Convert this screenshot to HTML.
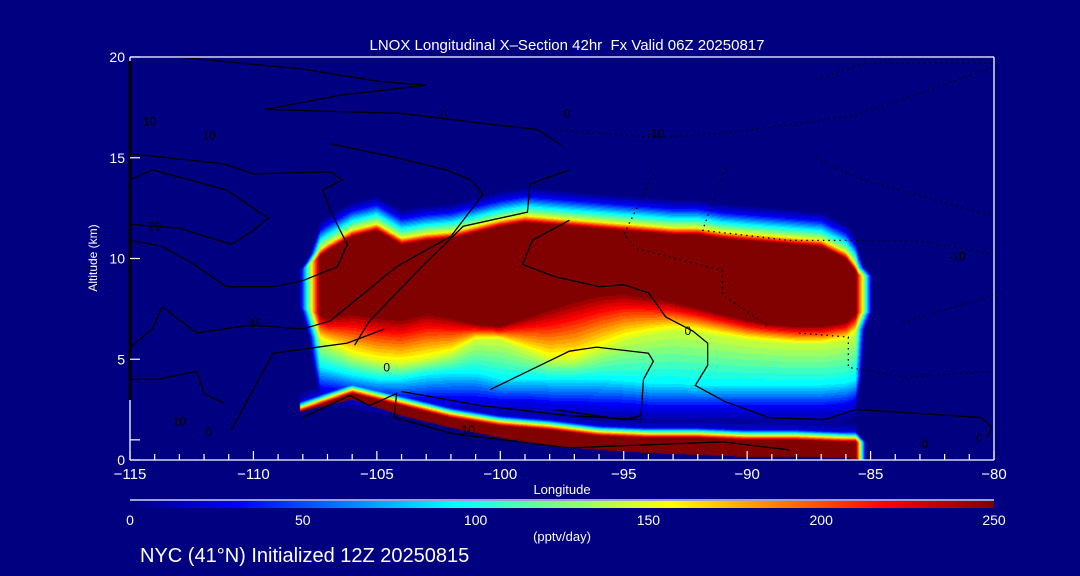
<!DOCTYPE html>
<html><head><meta charset="utf-8"><style>
html,body{margin:0;padding:0;background:#000080;width:1080px;height:576px;overflow:hidden}
#root{position:relative;width:1080px;height:576px;font-family:"Liberation Sans",sans-serif;color:#fff}
canvas{position:absolute}
svg{position:absolute;left:0;top:0}
</style></head><body>
<div id="root">
<canvas id="field" width="864" height="403" style="left:130px;top:57px"></canvas>
<canvas id="cbar" width="864" height="7" style="left:130px;top:501px"></canvas>
<svg id="ov" width="1080" height="576"></svg>
</div>
<script>
// ---- data ----
const blobLons = [-108,-107,-106,-105,-104,-103,-102,-101,-100,-99,-98,-97,-96,-95,-94,-93,-92,-91,-90,-89,-88,-87,-86,-85.5];
const coreTop  = [9.5,10.4,11.1,11.4,10.7,10.9,11.0,11.3,11.6,11.8,11.7,11.6,11.5,11.4,11.3,11.2,11.2,11.0,10.9,10.8,10.7,10.6,10.0,9.2];
const coreBot  = [7.5,7.0,7.2,7.0,6.9,7.2,7.0,6.7,6.6,7.0,7.4,7.8,8.1,8.2,8.0,7.8,7.5,7.2,6.9,6.7,6.6,6.6,6.8,7.3];
const yellowBot= [6.3,5.8,5.2,4.9,4.8,5.0,5.3,6.0,6.0,5.5,5.0,5.0,5.5,6.0,6.3,6.5,6.4,6.2,6.0,5.9,5.8,5.8,6.0,6.5];
const cyanBot  = [4.8,4.5,4.2,4.0,4.0,4.2,4.3,4.3,4.0,4.0,4.0,4.0,4.0,3.9,3.8,3.8,3.7,3.7,3.7,3.7,3.7,3.7,3.8,4.0];
const blueBot  = [3.6,3.5,3.3,3.1,3.0,3.0,3.0,3.0,2.9,2.9,2.8,2.8,2.7,2.7,2.6,2.6,2.6,2.6,2.6,2.6,2.6,2.6,2.7,3.0];
const bandLons = [-108.1,-106,-104,-102,-100,-98,-96,-94,-92,-90,-88,-86,-85.3];
const bandTop  = [2.4,3.3,2.7,2.1,1.7,1.5,1.2,1.1,1.1,1.0,1.0,0.9,0.9];
const bandBot  = [2.4,3.0,2.2,1.6,1.1,0.7,0.5,0.35,0.25,0.15,0.15,0.1,0.0];
const cbTicks = [0,50,100,150,200,250];
const xTicks = [-115,-110,-105,-100,-95,-90,-85,-80];
const yTicks = [0,5,10,15,20];
const solidLines = [
 [[-115,15.2],[-111.2,14.7],[-110,14.2],[-106.9,14.3],[-106.4,13.9],[-107.2,13.4],[-106.9,12.4],[-106.2,10.7],[-106.6,9.6],[-108,8.9],[-109.2,8.6],[-111.1,8.6],[-112.4,9.7],[-113.7,10.6],[-115,10.9]],
 [[-115,11.7],[-113,11.5],[-110.9,10.7],[-110,11.4],[-109.4,12.0],[-111.1,13.4],[-114.1,14.4],[-115,13.9]],
 [[-115,5.6],[-114.1,6.5],[-113.7,7.6],[-112.3,6.3],[-110.1,6.7],[-108,6.5],[-106.9,6.9],[-106.1,7.7],[-104.2,9.6],[-102,11.1],[-100.7,13.2],[-101.2,13.9],[-102.2,14.4],[-104.2,15.0],[-106.9,15.7]],
 [[-105.9,5.7],[-105.3,6.9],[-103.1,9.7],[-101.5,11.6],[-98.9,12.3],[-98.8,13.7],[-97.2,14.4]],
 [[-115,4.0],[-113.9,4.0],[-112.3,4.4],[-112,3.3],[-111.2,2.8]],
 [[-110.9,1.5],[-109.2,5.3],[-108,5.5],[-106.2,5.8],[-104.7,6.5]],
 [[-108,2.1],[-106.1,3.2],[-105.3,2.7],[-104.2,3.3],[-104.3,2.1],[-101.9,1.3],[-97.2,0.6],[-91,0.9],[-88.3,0.5]],
 [[-104,3.4],[-100.8,2.7],[-97.2,2.2],[-94.3,2.0]],
 [[-97.2,11.9],[-98.7,10.9],[-99.1,9.7],[-97.8,9.1],[-96,8.6],[-95,8.7],[-94,8.3],[-93.3,7.1],[-92.2,6.4],[-91.6,5.8],[-91.6,4.7],[-92.1,3.7],[-90.9,2.9],[-89.1,2.1],[-86.9,2.0],[-85.6,2.5],[-82.9,2.3],[-80.5,2.1],[-80.1,1.6],[-80.3,1.1]],
 [[-100.4,3.5],[-97.2,5.4],[-96.1,5.6],[-94,5.3],[-93.8,4.9],[-94.2,4.0],[-94.3,2.2],[-95,2.0],[-97.8,2.5]],
 [[-113.1,20],[-108,19.4],[-105,18.8],[-103,18.6],[-106.5,18.1],[-109.5,17.4],[-104,17.2],[-100,16.6],[-98.5,16.4],[-97.5,15.6]]
];
const dottedLines = [
 [[-97.8,16.4],[-93.7,16.0],[-91,16.2],[-85.6,17.1],[-80,19.5]],
 [[-93.7,14.5],[-94.1,13.4],[-95,11.2],[-94.5,10.5],[-91,9.4],[-91,8.2],[-89.1,6.6]],
 [[-90.9,14.5],[-91.8,11.4],[-88.3,10.9],[-83.2,10.9],[-80,10.2]],
 [[-87.9,6.3],[-85.9,6.1],[-85.9,4.6],[-83.6,4.1],[-80,4.4]],
 [[-87.2,15.0],[-85.6,14.0],[-80,12.1]],
 [[-87.2,18.9],[-85.2,19.7],[-80,19.7]],
 [[-83.7,6.8],[-80,8.2]]
];
const lineLabels = [["10",-114.2,16.8],["10",-111.8,16.1],["20",-114,11.6],["10",-109.9,6.8],["0",-111.8,1.4],["10",-113,1.9],["0",-102.3,17.1],["0",-97.3,17.2],["-10",-93.7,16.2],["-10",-81.5,10.1],["0",-92.4,6.4],["10",-101.3,1.5],["0",-104.6,4.6],["0",-82.8,0.8],["0",-80.6,1.1]];

// ---- axes ----
const X0=130,X1=994,Y0=460,Y1=57;
const xs = lon => X0+(lon+115)/35*(X1-X0);
const ys = alt => Y0-alt/20*(Y0-Y1);
function interp(xa,ya,x){
  if(x<=xa[0])return ya[0]; if(x>=xa[xa.length-1])return ya[ya.length-1];
  for(let i=1;i<xa.length;i++){ if(x<=xa[i]){const t=(x-xa[i-1])/(xa[i]-xa[i-1]);return ya[i-1]+t*(ya[i]-ya[i-1]);} }
}
function jet(t){
  t=Math.max(0,Math.min(1,t));
  const c=v=>Math.round(255*Math.max(0,Math.min(1,v)));
  return [c(1.5-Math.abs(4*t-3)),c(1.5-Math.abs(4*t-2)),c(1.5-Math.abs(4*t-1))];
}
function value(lon,alt){
  let v=0;
  const top=interp(blobLons,coreTop,lon),bot=interp(blobLons,coreBot,lon),
        yb=interp(blobLons,yellowBot,lon),cb=interp(blobLons,cyanBot,lon),bb=interp(blobLons,blueBot,lon);
  if(alt>=bot&&alt<=top)v=260;
  else if(alt>top)v=interp([0,0.35,0.8,1.3,1.8],[250,150,94,31,0],alt-top);
  else if(alt>=yb)v=150+(alt-yb)/(bot-yb)*100;
  else if(alt>=cb)v=94+(alt-cb)/(yb-cb)*56;
  else if(alt>=bb)v=31+(alt-bb)/(cb-bb)*63;
  else v=31-(bb-alt)*30;
  v-=Math.max(0,-107.3-lon)*300+Math.max(0,lon+85.6)*380;
  let w=0;
  if(lon>=-108.1){
    const bt=interp(bandLons,bandTop,lon),bo=interp(bandLons,bandBot,lon);
    if(alt<=bt&&alt>=bo)w=255;
    else if(alt>bt)w=Math.max(250-(alt-bt)*450, 45*(1-(alt-bt)/1.1));
    w-=Math.max(0,lon+85.6)*600;
  }
  return Math.max(v,w,0);
}
const cv=document.getElementById('field'),ctx=cv.getContext('2d');
const img=ctx.createImageData(864,403);
for(let py=0;py<403;py++){
  const alt=(Y0-(Y1+py+0.5))/(Y0-Y1)*20;
  for(let px=0;px<864;px++){
    const lon=-115+(px+0.5)/864*35;
    let v=Math.min(250,value(lon,alt));
    v=Math.floor(v/7.8)*7.8;
    const c=jet(v/250),k=(py*864+px)*4;
    img.data[k]=c[0];img.data[k+1]=c[1];img.data[k+2]=c[2];img.data[k+3]=255;
  }
}
ctx.putImageData(img,0,0);
const cb2=document.getElementById('cbar').getContext('2d');
for(let px=0;px<864;px++){const c=jet(px/863);cb2.fillStyle=`rgb(${c[0]},${c[1]},${c[2]})`;cb2.fillRect(px,0,1,7);}

// ---- overlay ----
const svg=document.getElementById('ov'),NS='http://www.w3.org/2000/svg';
function el(tag,attrs,parent){const e=document.createElementNS(NS,tag);for(const k in attrs)e.setAttribute(k,attrs[k]);(parent||svg).appendChild(e);return e;}
function txt(s,x,y,size,anchor,parent){const t=el('text',{x:x,y:y,'font-size':size,'text-anchor':anchor||'middle',fill:'#fff','font-family':'Liberation Sans, sans-serif'},parent);t.textContent=s;return t;}
const gLines=el('g',{fill:'none',stroke:'#000','stroke-width':1.3});


solidLines.forEach(l=>{const p=el('polyline',{points:l.map(q=>xs(q[0])+','+ys(q[1])).join(' ')},gLines);
 
 });
dottedLines.forEach(l=>{const p=el('polyline',{points:l.map(q=>xs(q[0])+','+ys(q[1])).join(' '),'stroke-dasharray':'1.5 4'},gLines);
 
 });
lineLabels.forEach(l=>{const t=el('text',{x:xs(l[1]),y:ys(l[2])+4,'font-size':12,'text-anchor':'middle',fill:'#000','font-family':'Liberation Sans, sans-serif'});t.textContent=l[0];
 
 });
// frame
const fr=el('g',{stroke:'#fff','stroke-width':1.3,fill:'none'});


el('line',{x1:X0,y1:Y1,x2:X1,y2:Y1},fr);el('line',{x1:X1,y1:Y1,x2:X1,y2:Y0},fr);
el('line',{x1:X0,y1:Y0,x2:X1,y2:Y0},fr);el('line',{x1:X0,y1:Y1,x2:X0,y2:Y0},fr);
el('line',{x1:X0,y1:61,x2:X0,y2:400,stroke:'#000','stroke-width':3},fr);
const xa=el('g',{});
for(let lon=-115;lon<=-80;lon++){const major=lon%5===0;el('line',{x1:xs(lon),x2:xs(lon),y1:Y0,y2:Y0-(major?9:6),stroke:'#fff','stroke-width':1.2},xa);}
xTicks.forEach(v=>{const t=txt('\u2212'+Math.abs(v),xs(v),479,15,'middle',xa);});
const xt=txt('Longitude',562,494,13);
const ya=el('g',{});
yTicks.forEach(v=>{el('line',{x1:X0,x2:X0+10,y1:ys(v),y2:ys(v),stroke:'#fff','stroke-width':1.2},ya);
 const t=txt(String(v),125,ys(v)+5,14,'end',ya);});
el('line',{x1:X0,x2:X0+10,y1:ys(1),y2:ys(1),stroke:'#fff','stroke-width':1.2},ya);
const yt=txt('Altitude (km)',0,0,12);yt.setAttribute('transform','translate(97,258) rotate(-90)');

const tt=txt('LNOX Longitudinal X\u2013Section 42hr\u00a0\u00a0Fx Valid 06Z 20250817',567,50,15);

// colorbar
el('line',{x1:130,x2:994,y1:500,y2:500,stroke:'#fff','stroke-width':1.3});
cbTicks.forEach(v=>{const t=txt(String(v),130+v/250*864,525,14);});
const ut=txt('(pptv/day)',562,541,13);
const nt=txt('NYC (41\u00b0N) Initialized 12Z 20250815',140,562,20,'start');
</script>
</body></html>
